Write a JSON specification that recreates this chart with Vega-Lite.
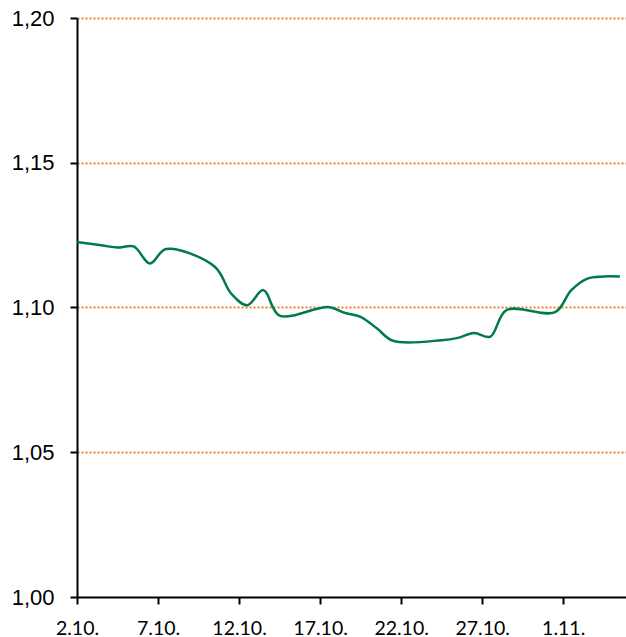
{
  "$schema": "https://vega.github.io/schema/vega-lite/v6.json",
  "autosize": "none",
  "width": 551,
  "height": 579,
  "padding": {"left": 77, "top": 18, "right": 0, "bottom": 40},
  "background": "white",
  "title": {
    "text": "EUR/USD",
    "font": "Liberation Sans",
    "fontSize": 22,
    "fontWeight": "normal",
    "color": "black",
    "anchor": "middle",
    "frame": "group",
    "baseline": "alphabetic",
    "offset": -3
  },
  "data": {
    "values": [
      {"date": "2016-09-30T12:00:00", "rate": 1.1237},
      {"date": "2016-10-03T12:00:00", "rate": 1.1215},
      {"date": "2016-10-04T12:00:00", "rate": 1.1207},
      {"date": "2016-10-05T12:00:00", "rate": 1.1211},
      {"date": "2016-10-06T12:00:00", "rate": 1.1152},
      {"date": "2016-10-07T12:00:00", "rate": 1.1202},
      {"date": "2016-10-10T12:00:00", "rate": 1.1141},
      {"date": "2016-10-11T12:00:00", "rate": 1.1049},
      {"date": "2016-10-12T12:00:00", "rate": 1.1008},
      {"date": "2016-10-13T12:00:00", "rate": 1.1060},
      {"date": "2016-10-14T12:00:00", "rate": 1.0972},
      {"date": "2016-10-17T12:00:00", "rate": 1.1002},
      {"date": "2016-10-18T12:00:00", "rate": 1.0982},
      {"date": "2016-10-19T12:00:00", "rate": 1.0968},
      {"date": "2016-10-20T12:00:00", "rate": 1.0928},
      {"date": "2016-10-21T12:00:00", "rate": 1.0885},
      {"date": "2016-10-24T12:00:00", "rate": 1.0887},
      {"date": "2016-10-25T12:00:00", "rate": 1.0895},
      {"date": "2016-10-26T12:00:00", "rate": 1.0912},
      {"date": "2016-10-27T12:00:00", "rate": 1.0899},
      {"date": "2016-10-28T12:00:00", "rate": 1.0991},
      {"date": "2016-10-31T12:00:00", "rate": 1.0984},
      {"date": "2016-11-01T12:00:00", "rate": 1.1060},
      {"date": "2016-11-02T12:00:00", "rate": 1.1100},
      {"date": "2016-11-03T12:00:00", "rate": 1.1107},
      {"date": "2016-11-04T12:00:00", "rate": 1.1107}
    ]
  },
  "mark": {
    "type": "line",
    "interpolate": "catmull-rom",
    "color": "#007A4D",
    "strokeWidth": 2.5,
    "clip": true
  },
  "encoding": {
    "x": {
      "field": "date",
      "type": "temporal",
      "title": null,
      "scale": {
        "domain": [
          {"year": 2016, "month": 10, "date": 2},
          {"year": 2016, "month": 11, "date": 5}
        ]
      },
      "axis": {
        "values": [
          {"year": 2016, "month": 10, "date": 2},
          {"year": 2016, "month": 10, "date": 7},
          {"year": 2016, "month": 10, "date": 12},
          {"year": 2016, "month": 10, "date": 17},
          {"year": 2016, "month": 10, "date": 22},
          {"year": 2016, "month": 10, "date": 27},
          {"year": 2016, "month": 11, "date": 1}
        ],
        "format": "%-d.%-m.",
        "grid": false,
        "domainColor": "black",
        "domainWidth": 2,
        "tickColor": "black",
        "tickWidth": 2,
        "tickSize": 7,
        "labelFont": "Lato",
        "labelFontSize": 19.5,
        "labelColor": "black",
        "labelPadding": 15,
        "labelFlush": false,
        "labelOverlap": false
      }
    },
    "y": {
      "field": "rate",
      "type": "quantitative",
      "title": null,
      "scale": {"domain": [1.0, 1.2], "nice": false, "zero": false},
      "axis": {
        "values": [1.0, 1.05, 1.1, 1.15, 1.2],
        "labelExpr": "replace(format(datum.value, '.2f'), '.', ',')",
        "grid": true,
        "gridColor": "#F07D2A",
        "gridWidth": 2,
        "gridDash": [2, 2],
        "gridOpacity": {"condition": {"test": "datum.value < 1.01", "value": 0}, "value": 1},
        "domainColor": "black",
        "domainWidth": 2,
        "tickColor": "black",
        "tickWidth": 2,
        "tickSize": 7,
        "labelFont": "Liberation Sans",
        "labelFontSize": 22,
        "labelColor": "black",
        "labelPadding": 16
      }
    }
  },
  "config": {"view": {"stroke": null}}
}
